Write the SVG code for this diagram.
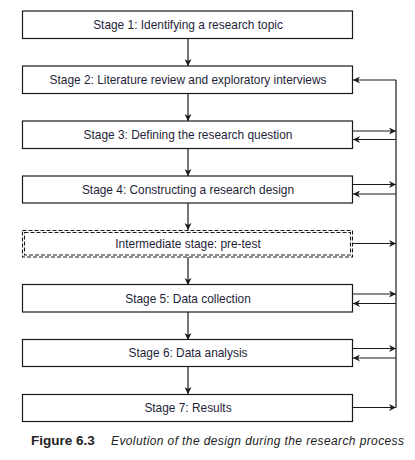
<svg xmlns="http://www.w3.org/2000/svg" width="415" height="460" viewBox="0 0 415 460">
<style>
.box{fill:#fff;stroke:#1a1a1a;stroke-width:1.2}
.dash{fill:none;stroke:#1a1a1a;stroke-width:1.1;stroke-dasharray:4 2}
.lbl{font-family:"Liberation Sans",Arial,sans-serif;font-size:11.9px;fill:#1f1f3a;text-anchor:middle}
.ln{fill:none;stroke:#1a1a1a;stroke-width:1.2}
.cap{font-family:"Liberation Sans",Arial,sans-serif;font-size:12px;fill:#222}
.capb{font-family:"Liberation Sans",Arial,sans-serif;font-size:13.5px;font-weight:bold;fill:#222}
</style>
<defs>
<marker id="ah" viewBox="0 0 10 10" refX="10" refY="5" markerWidth="7" markerHeight="7" markerUnits="userSpaceOnUse" orient="auto">
<path d="M0,0 L10,5 L0,10 L3,5 z" fill="#1a1a1a"/>
</marker>
</defs>
<g id="connectors">
<line class="ln" x1="188" y1="38" x2="188" y2="66" marker-end="url(#ah)"/>
<line class="ln" x1="188" y1="93" x2="188" y2="121" marker-end="url(#ah)"/>
<line class="ln" x1="188" y1="148" x2="188" y2="176" marker-end="url(#ah)"/>
<line class="ln" x1="188" y1="203" x2="188" y2="230" marker-end="url(#ah)"/>
<line class="ln" x1="188" y1="257" x2="188" y2="285" marker-end="url(#ah)"/>
<line class="ln" x1="188" y1="312" x2="188" y2="340" marker-end="url(#ah)"/>
<line class="ln" x1="188" y1="367" x2="188" y2="394" marker-end="url(#ah)"/>
<line class="ln" x1="396" y1="80" x2="396" y2="407.5"/>
<line class="ln" x1="396" y1="80" x2="353" y2="80" marker-end="url(#ah)"/>
<line class="ln" x1="353" y1="131" x2="396" y2="131" marker-end="url(#ah)"/>
<line class="ln" x1="396" y1="139.5" x2="353" y2="139.5" marker-end="url(#ah)"/>
<line class="ln" x1="353" y1="184.5" x2="396" y2="184.5" marker-end="url(#ah)"/>
<line class="ln" x1="396" y1="194" x2="353" y2="194" marker-end="url(#ah)"/>
<line class="ln" x1="353" y1="243.5" x2="396" y2="243.5" marker-end="url(#ah)"/>
<line class="ln" x1="353" y1="294" x2="396" y2="294" marker-end="url(#ah)"/>
<line class="ln" x1="396" y1="303.5" x2="353" y2="303.5" marker-end="url(#ah)"/>
<line class="ln" x1="353" y1="348.5" x2="396" y2="348.5" marker-end="url(#ah)"/>
<line class="ln" x1="396" y1="358" x2="353" y2="358" marker-end="url(#ah)"/>
<line class="ln" x1="353" y1="407.5" x2="396" y2="407.5" marker-end="url(#ah)"/>
</g>
<g id="stage1"><rect class="box" x="22.5" y="11" width="330" height="27.5"/><text class="lbl" x="188" y="29">Stage 1: Identifying a research topic</text></g>
<g id="stage2"><rect class="box" x="22.5" y="66" width="330" height="27.5"/><text class="lbl" x="188" y="84">Stage 2: Literature review and exploratory interviews</text></g>
<g id="stage3"><rect class="box" x="22.5" y="121" width="330" height="27.5"/><text class="lbl" x="188" y="139">Stage 3: Defining the research question</text></g>
<g id="stage4"><rect class="box" x="22.5" y="176" width="330" height="27"/><text class="lbl" x="188" y="193.5">Stage 4: Constructing a research design</text></g>
<g id="pretest"><rect class="dash" x="22.5" y="230.5" width="330" height="26.5"/><rect class="dash" x="24.5" y="232.5" width="326" height="22.5"/><text class="lbl" x="188" y="248">Intermediate stage: pre-test</text></g>
<g id="stage5"><rect class="box" x="22.5" y="284.5" width="330" height="27.5"/><text class="lbl" x="188" y="302.5">Stage 5: Data collection</text></g>
<g id="stage6"><rect class="box" x="22.5" y="339.5" width="330" height="27"/><text class="lbl" x="188" y="357">Stage 6: Data analysis</text></g>
<g id="stage7"><rect class="box" x="22.5" y="394.5" width="330" height="27"/><text class="lbl" x="188" y="412">Stage 7: Results</text></g>
<g id="caption">
<text class="capb" x="31" y="445">Figure 6.3</text>
<text class="cap" x="111" y="445" font-style="italic" textLength="293">Evolution of the design during the research process</text>
</g>
</svg>
